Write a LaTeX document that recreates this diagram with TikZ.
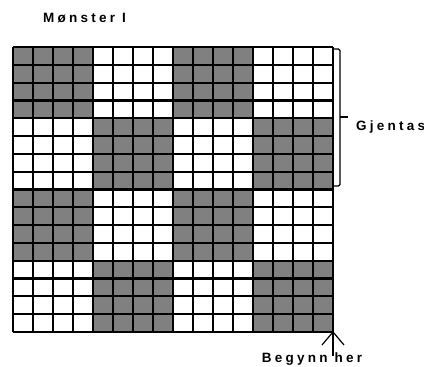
\documentclass[tikz,border=0pt]{standalone}
\usepackage{fontspec}
\setmainfont{Liberation Sans}[LetterSpace=24]
\definecolor{cellgray}{HTML}{808080}
\begin{document}
\begin{tikzpicture}[x=1pt,y=1pt,
  lbl/.style={font=\fontsize{13.5}{15}\selectfont\bfseries, inner sep=0pt},
  gridline/.style={line width=2.2pt, black},
  thinline/.style={line width=1.2pt, black}]
\useasboundingbox (0,0) rectangle (424,367);
% grid: x from 13 to 333, y (image) from 47 to 332
\pgfmathsetmacro{\cw}{20}
\pgfmathsetmacro{\ch}{285/16}
\foreach \i in {0,...,15}{
  \foreach \j in {0,...,15}{
    \pgfmathtruncatemacro{\bi}{int(\i/4)}
    \pgfmathtruncatemacro{\bj}{int(\j/4)}
    \pgfmathtruncatemacro{\parity}{mod(\bi+\bj,2)}
    \ifnum\parity=0
      \fill[cellgray] (13+\i*\cw, 320-\j*\ch) rectangle ++(\cw,-\ch);
    \fi
  }
}
\foreach \i in {0,...,16}{
  \draw[gridline] (13+\i*\cw,35) -- (13+\i*\cw,320);
  \draw[gridline] (13,35+\i*\ch) -- (333,35+\i*\ch);
}
\coordinate (corner) at (333,35);
% brace
\draw[thinline, rounded corners=1.5pt] (334,318) -- (340,318) -- (340,181) -- (334,181);
\draw[thinline] (340,250) -- (348,250);
% labels
\node[lbl, anchor=base west] (title) at (43,344) {Mønster I};
\node[lbl, anchor=west] (rep) at (356,240) {Gjentas};
\node[lbl, anchor=base] (start) at (312,4) {Begynn her};
\coordinate (tail) at (333,11);
\draw[thinline] (tail) -- (corner);
\draw[thinline] (322,22) -- (corner) -- (344,22);
\end{tikzpicture}
\end{document}
